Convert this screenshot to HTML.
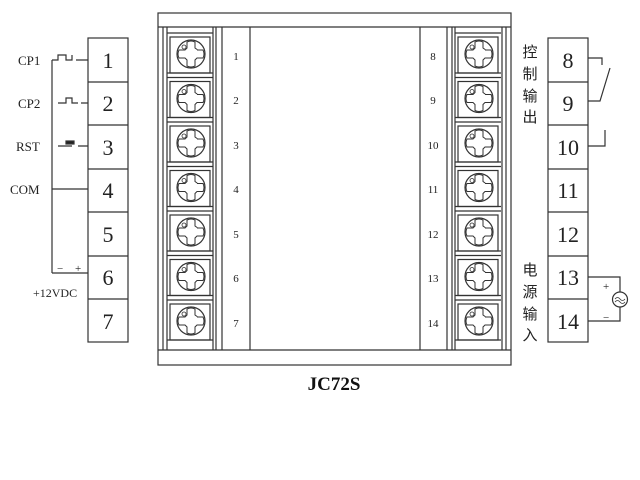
<!DOCTYPE html><html><head><style>body{margin:0;background:#fff}svg{display:block}</style></head><body>
<svg width="640" height="480" viewBox="0 0 640 480" xmlns="http://www.w3.org/2000/svg" font-family="Liberation Serif, serif" stroke="#333" fill="none" stroke-width="1.2">
<defs>
<g id="scr">
<rect x="-21" y="-17" width="40" height="36"/>
<circle r="14"/>
<path d="M-4,-12 Q0,-14 4,-12 L4,-6 Q7,-4 6,-4 L12,-4 Q14,0 12,4 L6,4 L4,6 L4,12 Q0,14 -4,12 L-4,6 L-6,4 L-12,4 Q-14,0 -12,-4 L-6,-4 L-4,-6 Z" stroke-width="1"/>
<circle cx="-7" cy="-7" r="2" stroke-width="0.8"/>
</g>
<g id="cell">
<line x1="0" y1="0" x2="46" y2="0"/>
<line x1="0" y1="40" x2="46" y2="40"/>
</g>
</defs>
<!-- main box -->
<rect x="158" y="13" width="353" height="352"/>
<line x1="158" y1="27" x2="511" y2="27"/>
<line x1="158" y1="350" x2="511" y2="350"/>
<line x1="163" y1="27" x2="163" y2="350"/>
<line x1="167" y1="27" x2="167" y2="350"/>
<line x1="213" y1="27" x2="213" y2="350"/>
<line x1="216" y1="27" x2="216" y2="350"/>
<line x1="222" y1="27" x2="222" y2="350"/>
<line x1="250" y1="27" x2="250" y2="350"/>
<line x1="420" y1="27" x2="420" y2="350"/>
<line x1="447" y1="27" x2="447" y2="350"/>
<line x1="452" y1="27" x2="452" y2="350"/>
<line x1="455" y1="27" x2="455" y2="350"/>
<line x1="502" y1="27" x2="502" y2="350"/>
<line x1="506" y1="27" x2="506" y2="350"/>
<g>
<use href="#cell" x="167" y="33"/><use href="#cell" x="167" y="77.5"/><use href="#cell" x="167" y="122"/><use href="#cell" x="167" y="166.5"/><use href="#cell" x="167" y="211"/><use href="#cell" x="167" y="255.5"/><use href="#cell" x="167" y="300"/>
<use href="#cell" x="455" y="33"/><use href="#cell" x="455" y="77.5"/><use href="#cell" x="455" y="122"/><use href="#cell" x="455" y="166.5"/><use href="#cell" x="455" y="211"/><use href="#cell" x="455" y="255.5"/><use href="#cell" x="455" y="300"/>
<use href="#scr" x="191" y="54"/><use href="#scr" x="191" y="98.5"/><use href="#scr" x="191" y="143"/><use href="#scr" x="191" y="187.5"/><use href="#scr" x="191" y="232"/><use href="#scr" x="191" y="276.5"/><use href="#scr" x="191" y="321"/>
<use href="#scr" x="479" y="54"/><use href="#scr" x="479" y="98.5"/><use href="#scr" x="479" y="143"/><use href="#scr" x="479" y="187.5"/><use href="#scr" x="479" y="232"/><use href="#scr" x="479" y="276.5"/><use href="#scr" x="479" y="321"/>
</g>
<g fill="#222" stroke="none" font-size="11" text-anchor="middle">
<text x="236" y="60">1</text><text x="236" y="104">2</text><text x="236" y="149">3</text><text x="236" y="193">4</text><text x="236" y="238">5</text><text x="236" y="282">6</text><text x="236" y="327">7</text>
<text x="433" y="60">8</text><text x="433" y="104">9</text><text x="433" y="149">10</text><text x="433" y="193">11</text><text x="433" y="238">12</text><text x="433" y="282">13</text><text x="433" y="327">14</text>
</g>
<!-- left terminal block -->
<rect x="88" y="38" width="40" height="304"/>
<line x1="88" y1="82" x2="128" y2="82"/><line x1="88" y1="125" x2="128" y2="125"/><line x1="88" y1="169" x2="128" y2="169"/><line x1="88" y1="212" x2="128" y2="212"/><line x1="88" y1="256" x2="128" y2="256"/><line x1="88" y1="299" x2="128" y2="299"/>
<g fill="#222" stroke="none" font-size="22" text-anchor="middle">
<text x="108" y="68">1</text><text x="108" y="111">2</text><text x="108" y="155">3</text><text x="108" y="198">4</text><text x="108" y="242">5</text><text x="108" y="285">6</text><text x="108" y="329">7</text>
</g>
<!-- right terminal block -->
<rect x="548" y="38" width="40" height="304"/>
<line x1="548" y1="82" x2="588" y2="82"/><line x1="548" y1="125" x2="588" y2="125"/><line x1="548" y1="169" x2="588" y2="169"/><line x1="548" y1="212" x2="588" y2="212"/><line x1="548" y1="256" x2="588" y2="256"/><line x1="548" y1="299" x2="588" y2="299"/>
<g fill="#222" stroke="none" font-size="22" text-anchor="middle">
<text x="568" y="68">8</text><text x="568" y="111">9</text><text x="568" y="155">10</text><text x="568" y="198">11</text><text x="568" y="242">12</text><text x="568" y="285">13</text><text x="568" y="329">14</text>
</g>
<!-- left wiring -->
<line x1="52" y1="60" x2="52" y2="273"/>
<path d="M52,60 H58 V55 H66 V60 H72 V55 M76,60 H88"/>
<path d="M58,103 H66 V98 H72 V103 H78 M81,103 H88"/>
<path d="M58,146 H72 M78,146 H88"/>
<rect x="66" y="141" width="8" height="3" fill="#222"/>
<line x1="52" y1="189" x2="88" y2="189"/>
<path d="M52,273 H88"/>
<g fill="#222" stroke="none" font-size="13">
<text x="18" y="65">CP1</text><text x="18" y="108">CP2</text><text x="16" y="151">RST</text><text x="10" y="194">COM</text>
<text x="33" y="297" font-size="12">+12VDC</text>
<text x="57" y="272" font-size="11">−</text><text x="75" y="272" font-size="11">+</text>
</g>
<!-- right wiring -->
<path d="M588,58 H602 V65"/>
<path d="M610,68 L600,101 H588"/>
<path d="M588,146 H605 V130"/>
<path d="M588,277 H620 V292 M620,307 V321 H588"/>
<circle cx="620" cy="299.5" r="7.5"/>
<path d="M615,299 q2.5,-3 5,0 t5,0 M615,302 q2.5,-3 5,0 t5,0" stroke-width="0.8"/>
<g fill="#222" stroke="none" font-size="11">
<text x="603" y="290">+</text><text x="603" y="321">−</text>
</g>
<g fill="#222" stroke="none" font-size="15" font-family="Liberation Sans, Noto Sans CJK SC, sans-serif" text-anchor="middle">
<text x="530" y="57">控</text><text x="530" y="79">制</text><text x="530" y="101">输</text><text x="530" y="122">出</text>
<text x="530" y="275">电</text><text x="530" y="297">源</text><text x="530" y="319">输</text><text x="530" y="340">入</text>
</g>
<text x="334" y="390" fill="#111" stroke="none" font-size="19" font-weight="bold" text-anchor="middle">JC72S</text>
</svg>
</body></html>
